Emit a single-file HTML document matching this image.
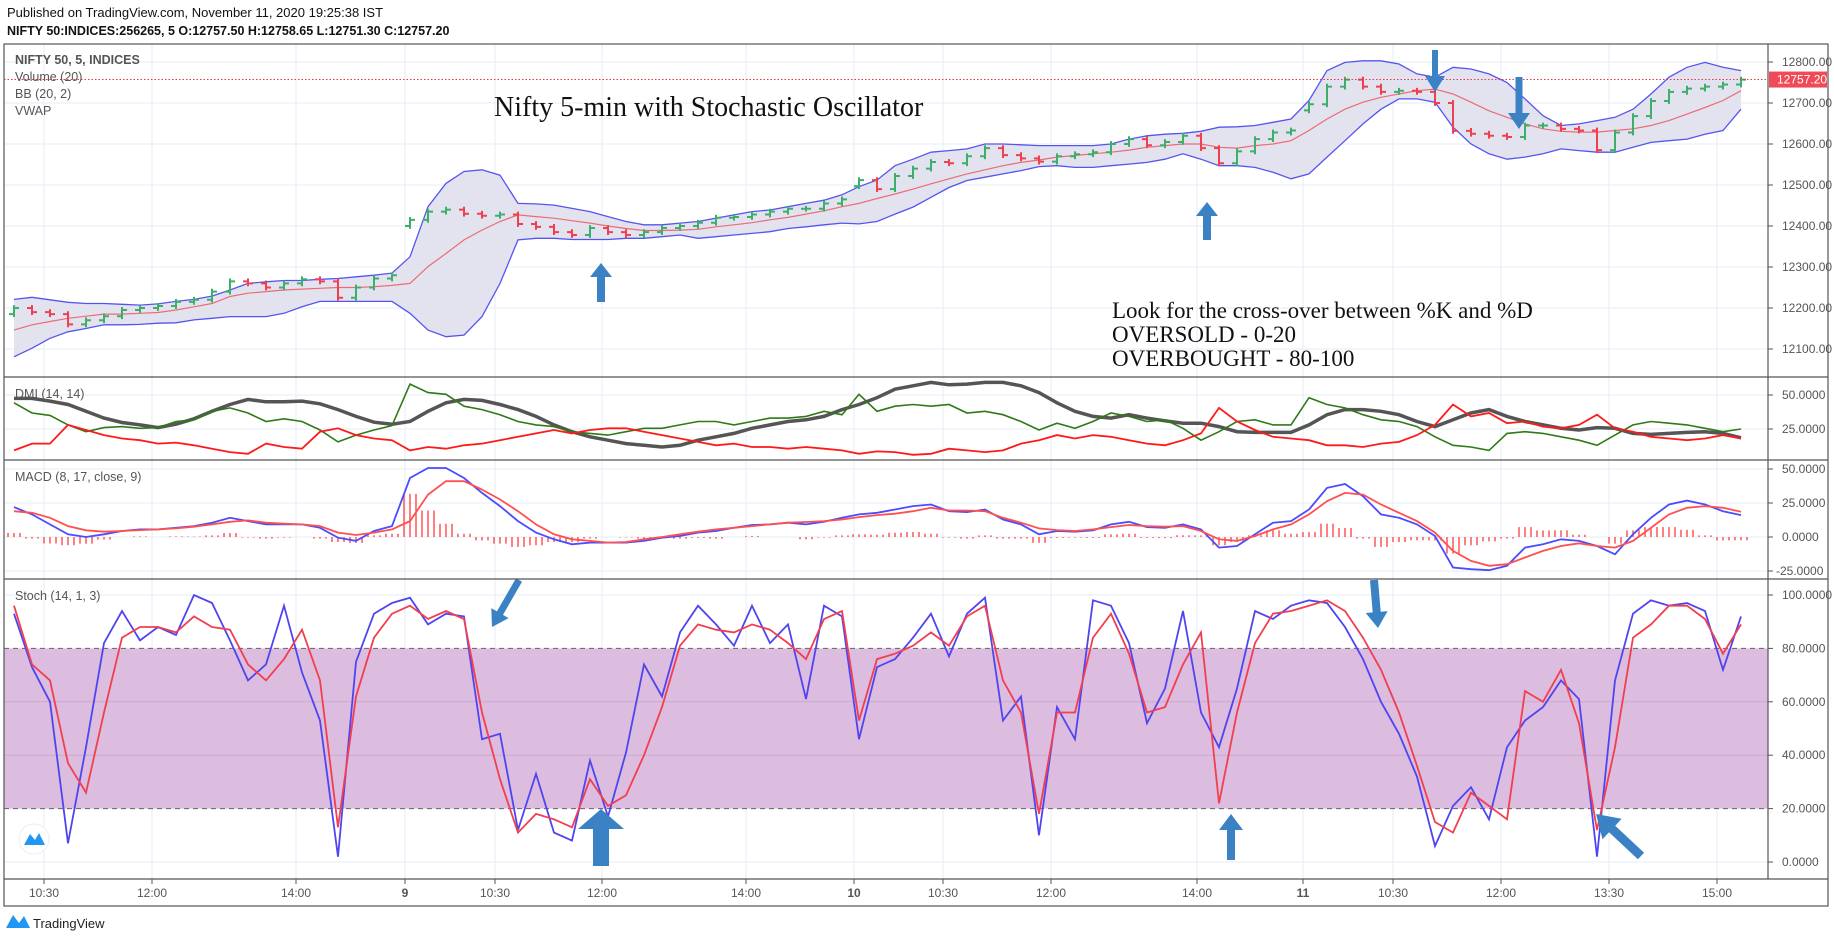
<!DOCTYPE html>
<html><head><meta charset="utf-8">
<style>
body{margin:0;background:#fff;}
svg{display:block;font-family:"Liberation Sans",sans-serif;}
</style></head>
<body>
<svg id="c" width="1834" height="940" xmlns="http://www.w3.org/2000/svg">
<text x="7" y="17" font-size="13" fill="#111">Published on TradingView.com, November 11, 2020 19:25:38 IST</text>
<text x="7" y="35" font-size="12.5" font-weight="bold" fill="#111">NIFTY 50:INDICES:256265, 5  O:12757.50 H:12758.65 L:12751.30 C:12757.20</text>
<g id="grid"></g>
<g id="marks"></g>
<g id="frame"></g>
</svg>
<script>
// ---- data (15-minute sampling) ----
const days = ["6", "9", "10", "11"];
const dayStartSlot = [3, 0, 0, 0];
const dayCounts = [22, 25, 25, 25];
const closes = [12200,12190,12185,12160,12170,12180,12195,12200,12205,12215,12220,12240,12265,12260,12250,12260,12270,12265,12225,12250,12272,12280,
12415,12435,12440,12430,12425,12428,12405,12398,12385,12378,12395,12385,12378,12385,12395,12400,12408,12420,12422,12428,12435,12442,12442,12455,12465,
12512,12490,12522,12540,12556,12553,12570,12590,12573,12565,12557,12570,12575,12580,12600,12612,12597,12605,12620,12590,12553,12582,12612,12628,12633,
12697,12740,12757,12740,12727,12730,12727,12700,12632,12625,12620,12617,12645,12645,12637,12633,12585,12628,12668,12705,12727,12735,12740,12745,12757];
const bbUpper = [12221,12226,12220,12214,12211,12211,12209,12207,12210,12216,12221,12229,12244,12260,12264,12267,12267,12270,12272,12276,12280,12285,
12325,12447,12504,12533,12537,12524,12455,12454,12451,12443,12435,12423,12411,12403,12403,12407,12411,12419,12427,12435,12439,12447,12455,12463,12476,
12496,12512,12547,12563,12580,12584,12588,12600,12600,12598,12596,12596,12596,12596,12600,12612,12620,12624,12626,12631,12641,12642,12645,12653,12661,
12706,12779,12799,12803,12803,12795,12771,12763,12787,12783,12771,12750,12710,12669,12645,12649,12657,12665,12685,12722,12763,12787,12799,12787,12779];
const bbLower = [12081,12102,12126,12142,12150,12159,12159,12160,12163,12164,12171,12175,12179,12179,12179,12187,12203,12216,12216,12216,12216,12216,
12187,12146,12130,12134,12179,12260,12366,12370,12370,12367,12367,12367,12370,12370,12374,12378,12370,12374,12378,12382,12386,12394,12398,12403,12407,
12405,12411,12429,12446,12470,12494,12511,12519,12527,12535,12545,12547,12543,12543,12547,12551,12555,12563,12576,12563,12547,12547,12543,12531,12515,
12527,12568,12608,12649,12685,12710,12710,12702,12641,12600,12576,12563,12568,12576,12588,12584,12580,12580,12592,12604,12608,12612,12624,12633,12685];
const bbMid = [12146,12159,12167,12175,12180,12185,12185,12187,12189,12195,12203,12211,12228,12236,12240,12244,12246,12248,12250,12250,12252,12255,
12260,12301,12333,12366,12390,12411,12427,12423,12419,12413,12407,12400,12394,12389,12389,12390,12392,12398,12403,12408,12415,12421,12429,12437,12447,
12455,12467,12478,12490,12503,12515,12527,12537,12547,12555,12561,12568,12572,12576,12580,12585,12592,12596,12600,12600,12592,12590,12596,12600,12608,
12633,12661,12685,12702,12714,12722,12730,12734,12722,12702,12681,12665,12649,12637,12631,12629,12629,12633,12637,12645,12657,12673,12689,12706,12730];
const adx = [47.5,47.5,45.5,43,38,33,29.8,28,26,28.5,32.5,38,43,46.8,45,45,45.5,43.5,39.3,34.3,30,28.5,
30.5,38,44.3,46.8,46,43,39.3,34.3,28,23,19.3,16.8,14.3,13,11.8,13,16.8,19.3,21.8,25.5,28,30.5,31.8,34.3,39.3,
43,48,54.3,56.8,59.3,57.5,58,59.3,59.3,56.8,51.8,44.3,38,34.3,33,35.5,33,31,29.3,29.3,26.8,23,22.5,22.5,22.5,
28,35.5,39.3,39.3,38,35.5,30.5,26.8,31.8,36.8,39.3,34.3,30.5,28,25.5,24.3,26,25.5,21.8,21,21.8,22.5,23,21.8,18.5];
const plusDI = [44.3,36.8,35,28,23,26,26.8,25.5,26,30.5,31.8,38,40.5,36.8,30.5,32.5,30.5,24.3,15.5,20.5,24.3,27.5,
58,51.8,50.5,41.8,39.3,35.5,30.5,28,26.8,23,21.8,20.5,23,25.5,25.5,28,30.5,30.5,28,30.5,33,33,34.3,38,35.5,
50.5,38,41.8,43,41.8,43,36.8,38,35.5,30.5,24.3,29.3,25.5,30.5,36.8,34.3,30.5,31.8,25.5,16.8,23,30.5,31.8,28,28,
48,43,40.5,35.5,31.8,30.5,26.8,19.3,13,11.8,9.3,21.8,23,21.8,19.3,16.8,13,20.5,28,30.5,29.3,28,25.5,23,25];
const minusDI = [9.3,14.3,14.3,28,24.3,20.5,18,16.8,14.3,15,13,10.5,8,6.8,14.3,11.8,10.5,23,25.5,20.5,18,16.8,
9.3,11.8,10.5,13,14.3,16.8,19.3,21.8,24.3,21.8,24.3,25.5,25.5,23,20.5,18,15.5,13,14.3,11.8,11.8,10.5,11.8,10.5,9.3,
6.8,8.5,8,6,6.8,10.5,9.3,8,9.3,14.3,16.8,20.5,18,20.5,19.3,16.8,14.3,13,16.8,21.8,40.5,30.5,24.3,19.3,18,
16.8,13,13,11.8,14.3,15.5,20.5,28,43,34.3,36.8,29.3,30.5,26.8,25.5,28,35.5,25.5,23,19.3,18,16.8,18,20.5,18];
const macdLine = [22,16.6,9.3,2,0,2,4.4,5.6,5.6,6.8,8,10.5,14.1,11.7,9.3,9.3,9.3,6.8,-0.5,-2.9,4.4,8,
43.4,50.7,50.7,43.4,32.4,22.7,11.7,3.2,-1.7,-5.4,-4.1,-4.1,-4.1,-2.9,-0.5,0.7,3.2,4.4,6.8,8.8,9.3,10.5,9.3,11.2,14.1,
16.6,17.8,20.2,22.7,23.9,19,18.3,20.2,12.9,9.3,2,4.4,3.9,4.9,9.3,11.2,7.3,6.8,9.3,5.6,-7.8,-6.6,2,10.5,11.7,
20.2,36.1,39,30,16.6,14.1,9.3,0.7,-22.4,-23.7,-24.4,-21.2,-7.8,-5.4,-1.7,-2.9,-6.6,-12.7,2,14.1,23.9,26.8,23.9,19,16.1];
const signalLine = [19,17.8,14.1,8,4.9,3.9,4.4,5.1,5.6,6.3,7.6,9.3,11.2,12.2,10.5,9.8,9.3,8,3.2,1.5,3.2,5.6,
11.7,31.2,41,41,34.9,27.6,19,9.3,2,-1.7,-2.9,-4.1,-3.7,-1.7,0,2,3.9,5.6,6.8,8,9.3,10.5,11,11.7,12.9,
14.6,16.1,17.1,19,21.5,19.5,19.5,19,14.1,10.5,6.3,5.1,4.4,5.6,7.3,8.8,8,7.6,8,4.4,-1.7,-2.9,0.7,5.6,9.3,
16.6,26.3,32.4,31.2,23.9,17.8,11.7,3.2,-10.2,-17.6,-21.2,-20,-15.1,-10.2,-6.6,-4.6,-6.6,-7.8,-2.9,6.8,16.6,21.5,22.7,21.5,18.5];
const stochK = [93,73,60,7,43,82,94,83,88,85,100,97,83,68,74,96,71,53,2,75,93,97,
99,89,93,92,46,48,12,33,11,8,38,17,41,74,62,86,96,89,81,96,82,89,61,96,92,
46,73,76,84,93,77,93,99,53,62,10,58,46,98,96,82,52,65,94,56,43,65,94,91,96,
98,97,88,76,60,48,32,6,21,28,16,43,53,58,68,61,2,68,93,98,96,97,94,72,92];
const stochD = [96,74,68,37,26,56,84,88,88,86,92,88,87,74,68,76,87,68,13,62,84,93,
96,91,94,91,56,31,11,18,16,13,31,21,25,40,58,81,89,87,86,89,87,82,76,91,94,
53,76,78,81,86,81,92,96,68,56,18,56,56,84,93,78,56,58,74,86,22,56,82,93,94,
96,98,94,84,72,56,36,15,11,26,21,16,64,60,72,52,12,43,84,89,96,96,91,78,89];
const priceTicks = [12800,12700,12600,12500,12400,12300,12200,12100];
const dmiTicks = [50,25];
const macdTicks = [50,25,0,-25];
const stochTicks = [100,80,60,40,20,0];
const timeLabels = ["10:30","12:00","14:00","9","10:30","12:00","14:00","10","10:30","12:00","14:00","11","10:30","12:00","13:30","15:00"];
const lastPrice = 12757.20;

// ---- layout ----
const NS="http://www.w3.org/2000/svg";
const L=4, R=1768, AX=1828;
const dayX=[-46,404,853,1303];
const timeX=[44,152,296,405,495,602,746,854,943,1051,1197,1303,1393,1501,1609,1717];
const yP=p=>62+(12800-p)*0.41;
const yDMI=v=>395+(50-v)*1.36;
const yMACD=v=>537-v*1.36;
const yS=v=>862-v*2.67;
const xs=[];
(function(){let i=0;for(let d=0;d<4;d++){for(let j=0;j<dayCounts[d];j++){const k=dayStartSlot[d]+j;xs.push(dayX[d]+(3*k+1)*6);}}})();
const svg=document.getElementById('c');
const grid=document.getElementById('grid'),marks=document.getElementById('marks'),frame=document.getElementById('frame');
function el(tag,attrs,parent){const e=document.createElementNS(NS,tag);for(const k in attrs)e.setAttribute(k,attrs[k]);(parent||marks).appendChild(e);return e;}
function txt(s,x,y,attrs,parent){const t=el('text',Object.assign({x:x,y:y},attrs),parent);t.textContent=s;return t;}
function path(vals,yf){return vals.map((v,i)=>(i?'L':'M')+xs[i].toFixed(1)+' '+yf(v).toFixed(1)).join(' ');}

// clip paths
const defs=el('defs',{},svg);
[[44,377,'cp1'],[377,460,'cp2'],[460,579,'cp3'],[579,879,'cp4']].forEach(a=>{const c=el('clipPath',{id:a[2]},defs);el('rect',{x:L,y:a[0],width:R-L,height:a[1]-a[0]},c);});

// grid
timeX.forEach(x=>{const g=el('line',{x1:x,y1:44,x2:x,y2:879,stroke:'#e6edf5','stroke-width':1},grid);

});
priceTicks.forEach(p=>{const g=el('line',{x1:L,y1:yP(p),x2:R,y2:yP(p),stroke:'#e6edf5'},grid);

});
dmiTicks.forEach(v=>el('line',{x1:L,y1:yDMI(v),x2:R,y2:yDMI(v),stroke:'#e6edf5'},grid));
macdTicks.forEach(v=>el('line',{x1:L,y1:yMACD(v),x2:R,y2:yMACD(v),stroke:'#e6edf5'},grid));

// stoch band
const band=el('rect',{x:L,y:yS(80),width:R-L,height:yS(20)-yS(80),fill:'#dcbcdf'},grid);


stochTicks.forEach(v=>{if(v!==80&&v!==20)el('line',{x1:L,y1:yS(v),x2:R,y2:yS(v),stroke:(v==60||v==40)?'#caa9cf':'#e6edf5'},grid);});
[80,20].forEach(v=>el('line',{x1:L,y1:yS(v),x2:R,y2:yS(v),stroke:'#666','stroke-dasharray':'5,4'},grid));

// ---- main pane ----
const mg=el('g',{'clip-path':'url(#cp1)'});
// BB fill per day segment
const segs=[];let s=0;dayCounts.forEach(c=>{segs.push([s,s+c]);s+=c;});
let fillD='';
for(let i=0;i<xs.length;i++)fillD+=(i?'L':'M')+xs[i]+' '+yP(bbUpper[i]).toFixed(1);
for(let i=xs.length-1;i>=0;i--)fillD+='L'+xs[i]+' '+yP(bbLower[i]).toFixed(1);
const bf=el('path',{d:fillD+'Z',fill:'#e3e3f0'},mg);


const bu=el('path',{d:path(bbUpper,yP),fill:'none',stroke:'#5555ee','stroke-width':1.3},mg);


const bl=el('path',{d:path(bbLower,yP),fill:'none',stroke:'#5555ee','stroke-width':1.3},mg);


const bm=el('path',{d:path(bbMid,yP),fill:'none',stroke:'#ec6b75','stroke-width':1.2},mg);


// bars
let starts=new Set();s=0;dayCounts.forEach(c=>{starts.add(s);s+=c;});
closes.forEach((c,i)=>{
  const o=starts.has(i)?c-15:closes[i-1];
  const hi=Math.max(o,c)+7, lo=Math.min(o,c)-7;
  const col=c>=o?'#3daf6a':'#ef4050';
  const x=xs[i];
  const g=el('path',{d:`M${x} ${yP(hi)}L${x} ${yP(lo)}M${x-5} ${yP(o)}L${x} ${yP(o)}M${x} ${yP(c)}L${x+5} ${yP(c)}`,stroke:col,'stroke-width':2,fill:'none'},mg);
  
  
});
const lp=el('line',{x1:L,y1:yP(lastPrice),x2:R,y2:yP(lastPrice),stroke:'#e53945','stroke-dasharray':'1.5,2','stroke-width':1});



// ---- DMI ----
const dg=el('g',{'clip-path':'url(#cp2)'});
const a1=el('path',{d:path(adx,yDMI),fill:'none',stroke:'#555','stroke-width':3.5},dg);


const a2=el('path',{d:path(plusDI,yDMI),fill:'none',stroke:'#2f7a16','stroke-width':1.6},dg);


const a3=el('path',{d:path(minusDI,yDMI),fill:'none',stroke:'#ff1a1a','stroke-width':1.8},dg);



// ---- MACD ----
const cg=el('g',{'clip-path':'url(#cp3)'});
macdLine.forEach((m,i)=>{const h=m-signalLine[i];[-6,0,6].forEach(dx=>{
  const b=el('line',{x1:xs[i]+dx,x2:xs[i]+dx,y1:yMACD(0),y2:yMACD(h),stroke:'#ff5555','stroke-width':1.5},cg);
  
  });});
const m1=el('path',{d:path(macdLine,yMACD),fill:'none',stroke:'#4b4bff','stroke-width':1.8},cg);


const m2=el('path',{d:path(signalLine,yMACD),fill:'none',stroke:'#ff5050','stroke-width':1.8},cg);



// ---- Stoch ----
const sg=el('g',{'clip-path':'url(#cp4)'});
const k1=el('path',{d:path(stochK,yS),fill:'none',stroke:'#4f45f0','stroke-width':1.8},sg);


const d1=el('path',{d:path(stochD,yS),fill:'none',stroke:'#f23f4f','stroke-width':1.8},sg);



// ---- annotations (arrows) ----
function arrow(x1,y1,x2,y2,w,hw,hl,name){
  const dx=x2-x1,dy=y2-y1,len=Math.hypot(dx,dy),ux=dx/len,uy=dy/len,px=-uy,py=ux;
  const bx=x2-ux*hl,by=y2-uy*hl;
  const pts=[[x1+px*w/2,y1+py*w/2],[bx+px*w/2,by+py*w/2],[bx+px*hw/2,by+py*hw/2],[x2,y2],[bx-px*hw/2,by-py*hw/2],[bx-px*w/2,by-py*w/2],[x1-px*w/2,y1-py*w/2]];
  const a=el('polygon',{points:pts.map(p=>p.map(v=>v.toFixed(1)).join(',')).join(' '),fill:'#3b82c4'});
  
  
}
arrow(601,302,601,263,8,22,14,'annotation-arrow-up-1');
arrow(1207,240,1207,202,8,22,14,'annotation-arrow-up-2');
arrow(1435,50,1435,92,6,20,16,'annotation-arrow-down-1');
arrow(1519,77,1519,129,7,22,16,'annotation-arrow-down-2');
arrow(519,580,492,627,7,20,16,'annotation-arrow-diag-1');
arrow(601,866,601,809,16,46,20,'annotation-arrow-up-big');
arrow(1374,580,1378,628,8,22,16,'annotation-arrow-down-3');
arrow(1231,860,1231,814,8,24,16,'annotation-arrow-up-3');
arrow(1641,856,1596,814,9,28,22,'annotation-arrow-diag-2');

// ---- text annotations ----
txt('Nifty 5-min with Stochastic Oscillator',494,116,{'font-family':'Liberation Serif,serif','font-size':28,fill:'#111',});
['Look for the cross-over between %K and %D','OVERSOLD - 0-20','OVERBOUGHT - 80-100'].forEach((s,i)=>{
  const t=txt(s,1112,318+i*24,{'font-family':'Liberation Serif,serif','font-size':23,fill:'#111'});
  
  });

// legends
[['NIFTY 50, 5, INDICES',64,'bold'],['Volume (20)',81,'normal'],['BB (20, 2)',98,'normal'],['VWAP',115,'normal'],['DMI (14, 14)',398,'normal'],['MACD (8, 17, close, 9)',481,'normal'],['Stoch (14, 1, 3)',600,'normal']].forEach(a=>{
  const t=txt(a[0],15,a[1],{'font-size':12.5,fill:'#555','font-weight':a[2]},frame);
  
  });

// frame lines
el('rect',{x:L,y:44,width:AX-L,height:862,fill:'none',stroke:'#555','stroke-width':1.2},frame);
[377,460,579,879].forEach(y=>el('line',{x1:L,x2:AX,y1:y,y2:y,stroke:'#555','stroke-width':1.2},frame));
el('line',{x1:R,x2:R,y1:44,y2:879,stroke:'#555','stroke-width':1.2},frame);

// axis labels
priceTicks.forEach(p=>{el('line',{x1:R,x2:R+5,y1:yP(p),y2:yP(p),stroke:'#555'},frame);
  const t=txt(p.toFixed(2),1782,yP(p)+4,{'font-size':12,fill:'#555'},frame);
  
  });
dmiTicks.forEach(v=>{el('line',{x1:R,x2:R+5,y1:yDMI(v),y2:yDMI(v),stroke:'#555'},frame);txt(v.toFixed(4),1782,yDMI(v)+4,{'font-size':12,fill:'#555'},frame);});
macdTicks.forEach(v=>{el('line',{x1:R,x2:R+5,y1:yMACD(v),y2:yMACD(v),stroke:'#555'},frame);txt(v.toFixed(4),v<0?1776:1782,yMACD(v)+4,{'font-size':12,fill:'#555'},frame);});
stochTicks.forEach(v=>{el('line',{x1:R,x2:R+5,y1:yS(v),y2:yS(v),stroke:'#555'},frame);txt(v.toFixed(4),1782,yS(v)+4,{'font-size':12,fill:'#555'},frame);});
const pb=el('rect',{x:R+1,y:yP(lastPrice)-8,width:AX-R-2,height:16,fill:'#ef4a57'},frame);


txt(lastPrice.toFixed(2),1777,yP(lastPrice)+4,{'font-size':12,fill:'#fff'},frame);
timeLabels.forEach((s,i)=>{el('line',{x1:timeX[i],x2:timeX[i],y1:879,y2:884,stroke:'#555'},frame);
  const t=txt(s,timeX[i],897,{'font-size':12,fill:'#555','text-anchor':'middle','font-weight':/^\d+$/.test(s)?'bold':'normal'},frame);
  
  });

// logos
const lc=el('circle',{cx:34,cy:839,r:15,fill:'#fff',stroke:'#eee'},frame);


el('path',{d:'M24 845 L30 834 L35 840 L39 833 L45 845 Z',fill:'#2196f3'},frame);
el('path',{d:'M6 928 L13 915 L19 923 L24 916 L30 928 Z',fill:'#2196f3'},frame);
txt('TradingView',33,928,{'font-size':13,fill:'#222',},frame);
</script>
</body></html>
